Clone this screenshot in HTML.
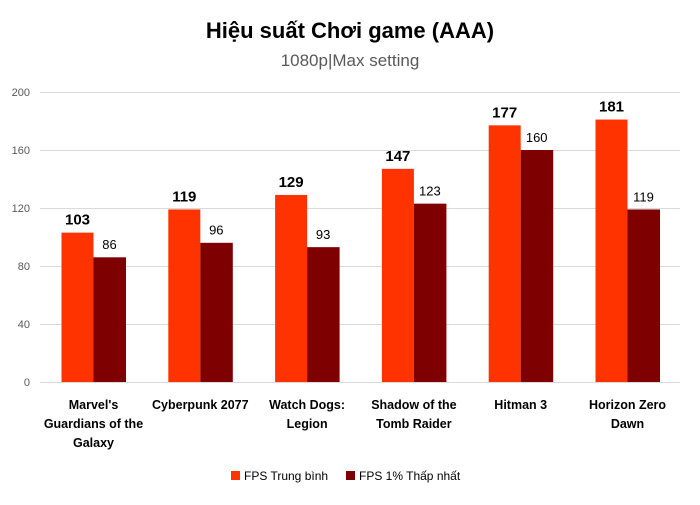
<!DOCTYPE html>
<html><head><meta charset="utf-8"><style>
body{margin:0;background:#fff;}
svg text{font-family:"Liberation Sans",sans-serif;}
</style></head><body>
<svg width="700" height="500" xmlns="http://www.w3.org/2000/svg">
<rect width="700" height="500" fill="#fff"/>
<text x="350" y="38" text-anchor="middle" font-size="22" font-weight="bold" fill="#000">Hiệu suất Chơi game (AAA)</text>
<text x="350" y="66" text-anchor="middle" font-size="17" fill="#595959">1080p|Max setting</text>
<g stroke="#d9d9d9" stroke-width="1">
<line x1="40" x2="680" y1="92.5" y2="92.5"/>
<line x1="40" x2="680" y1="150.5" y2="150.5"/>
<line x1="40" x2="680" y1="208.5" y2="208.5"/>
<line x1="40" x2="680" y1="266.5" y2="266.5"/>
<line x1="40" x2="680" y1="324.5" y2="324.5"/>
<line x1="40" x2="680" y1="382.5" y2="382.5"/>
</g>
<g font-size="11" fill="#595959" text-anchor="end">
<text x="30" y="96">200</text><text x="30" y="154">160</text><text x="30" y="212">120</text>
<text x="30" y="270">80</text><text x="30" y="328">40</text><text x="30" y="386">0</text>
</g>
<g fill="#FF3300">
<rect x="61.5" y="232.65" width="32" height="149.35"/>
<rect x="168.3" y="209.45" width="32" height="172.55"/>
<rect x="275.1" y="194.95" width="32" height="187.05"/>
<rect x="381.9" y="168.85" width="32" height="213.15"/>
<rect x="488.7" y="125.35" width="32" height="256.65"/>
<rect x="595.5" y="119.55" width="32" height="262.45"/>
</g>
<g fill="#7F0000">
<rect x="93.5" y="257.3" width="32.5" height="124.7"/>
<rect x="200.3" y="242.8" width="32.5" height="139.2"/>
<rect x="307.1" y="247.15" width="32.5" height="134.85"/>
<rect x="413.9" y="203.65" width="32.5" height="178.35"/>
<rect x="520.7" y="150" width="32.5" height="232"/>
<rect x="627.5" y="209.45" width="32.5" height="172.55"/>
</g>
<g font-size="15" font-weight="bold" text-anchor="middle" fill="#000">
<text x="77.5" y="224.5">103</text>
<text x="184.3" y="201.5">119</text>
<text x="291.1" y="187">129</text>
<text x="397.9" y="161">147</text>
<text x="504.7" y="117.5">177</text>
<text x="611.5" y="111.5">181</text>
</g>
<g font-size="13" text-anchor="middle" fill="#000">
<text x="109.5" y="249">86</text>
<text x="216.3" y="234.5">96</text>
<text x="323.1" y="239">93</text>
<text x="429.9" y="195.5">123</text>
<text x="536.7" y="142">160</text>
<text x="643.5" y="201.5">119</text>
</g>
<g font-size="12.5" font-weight="bold" text-anchor="middle" fill="#000">
<text x="93.5" y="409">Marvel's</text>
<text x="93.5" y="428">Guardians of the</text>
<text x="93.5" y="447">Galaxy</text>
<text x="200.3" y="409">Cyberpunk 2077</text>
<text x="307.1" y="409">Watch Dogs:</text>
<text x="307.1" y="428">Legion</text>
<text x="413.9" y="409">Shadow of the</text>
<text x="413.9" y="428">Tomb Raider</text>
<text x="520.7" y="409">Hitman 3</text>
<text x="627.5" y="409">Horizon Zero</text>
<text x="627.5" y="428">Dawn</text>
</g>
<rect x="231" y="471" width="9" height="9" fill="#FF3300"/>
<text x="244" y="480" font-size="12" fill="#000">FPS Trung bình</text>
<rect x="346" y="471" width="9" height="9" fill="#7F0000"/>
<text x="359" y="480" font-size="12" fill="#000">FPS 1% Thấp nhất</text>
</svg>
</body></html>
